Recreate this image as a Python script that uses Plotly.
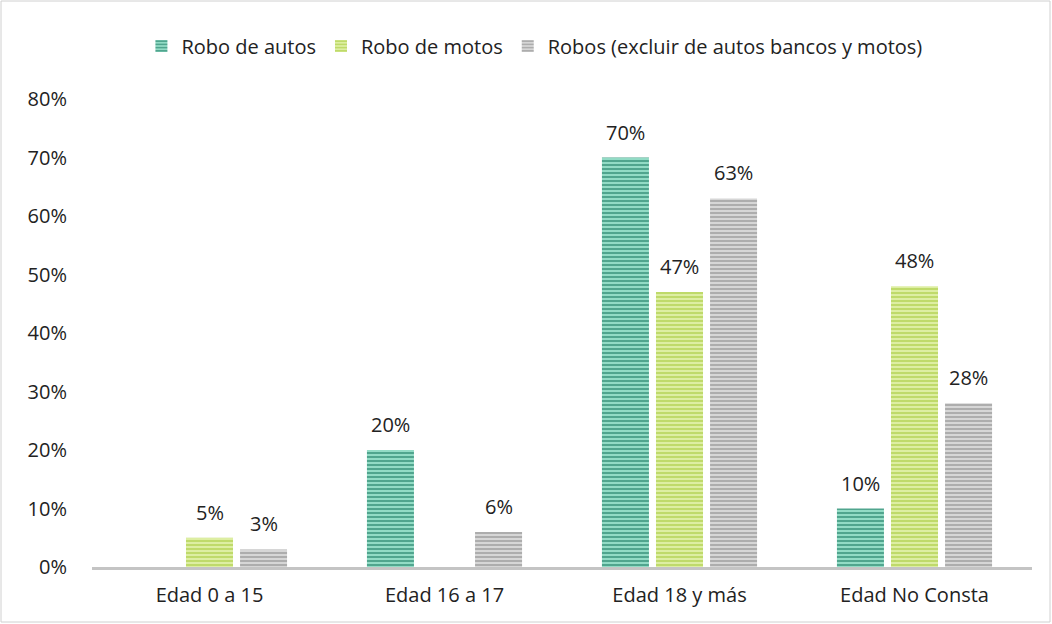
import plotly.graph_objects as go

categories = ["Edad 0 a 15", "Edad 16 a 17", "Edad 18 y más", "Edad No Consta"]
series_names = ["Robo de autos", "Robo de motos", "Robos (excluir de autos bancos y motos)"]
robo_autos = [0, 20, 70, 10]
robo_motos = [5, 0, 47, 48]
robos_otros = [3, 6, 63, 28]
y_ticks = [0, 10, 20, 30, 40, 50, 60, 70, 80]

W, H = 1052, 624
ML, MR, MT, MB = 92, 20, 99, 57
BARGAP = 0.31
FONT = "Open Sans, sans-serif"
FS = 20

styles = [
    dict(fg="#0d6f58", bg="#92dbc5"),
    dict(fg="#a2c531", bg="#ddeea2"),
    dict(fg="#848484", bg="#d6d6d6"),
]

pw = W - ML - MR
ph = H - MT - MB
slot = pw / len(categories) * (1 - BARGAP) / len(series_names)

fig = go.Figure()
all_series = [robo_autos, robo_motos, robos_otros]
for i, (name, vals, st) in enumerate(zip(series_names, all_series, styles)):
    fig.add_trace(go.Bar(
        x=categories, y=vals, name=name,
        marker=dict(
            color=st["bg"],
            line=dict(width=0),
            pattern=dict(shape="-", fgcolor=st["fg"], bgcolor=st["bg"],
                         fillmode="overlay", size=4, solidity=0.5),
        ),
    ))
    # value labels above each bar, offset to the bar's slot in the group
    for cat, v in zip(categories, vals):
        if v:
            fig.add_annotation(x=cat, y=v, xref="x", yref="y", text=f"{v}%",
                               showarrow=False, yanchor="bottom", yshift=10,
                               xshift=(i - 1) * slot,
                               font=dict(size=FS, color="#222222", family=FONT))

fig.add_shape(type="rect", xref="paper", yref="paper",
              x0=(1 - ML) / pw, x1=(W - 2 - ML) / pw,
              y0=-(MB - 2) / ph, y1=(H - MB - 1) / ph,
              line=dict(color="#d0d0d0", width=1))

fig.update_layout(
    width=W, height=H,
    margin=dict(l=ML, r=MR, t=MT, b=MB, autoexpand=False),
    paper_bgcolor="white", plot_bgcolor="white",
    font=dict(family=FONT, size=FS, color="#222222"),
    barmode="group", bargap=BARGAP, bargroupgap=0.13,
    showlegend=True,
    legend=dict(orientation="h", x=0.508, xanchor="center", xref="container",
                y=1 - 46 / H, yanchor="middle", yref="container",
                font=dict(size=FS), traceorder="normal", itemwidth=30),
    xaxis=dict(showline=True, linecolor="#c4c4c4", linewidth=3, ticks="",
               showgrid=False, tickfont=dict(size=FS), ticklabelstandoff=8),
    yaxis=dict(range=[0, 80], tickvals=y_ticks, ticktext=[f"{v}%" for v in y_ticks],
               showgrid=False, zeroline=False, showline=False, ticks="",
               tickfont=dict(size=FS), ticklabelstandoff=24),
)

fig.write_html("out.html")
